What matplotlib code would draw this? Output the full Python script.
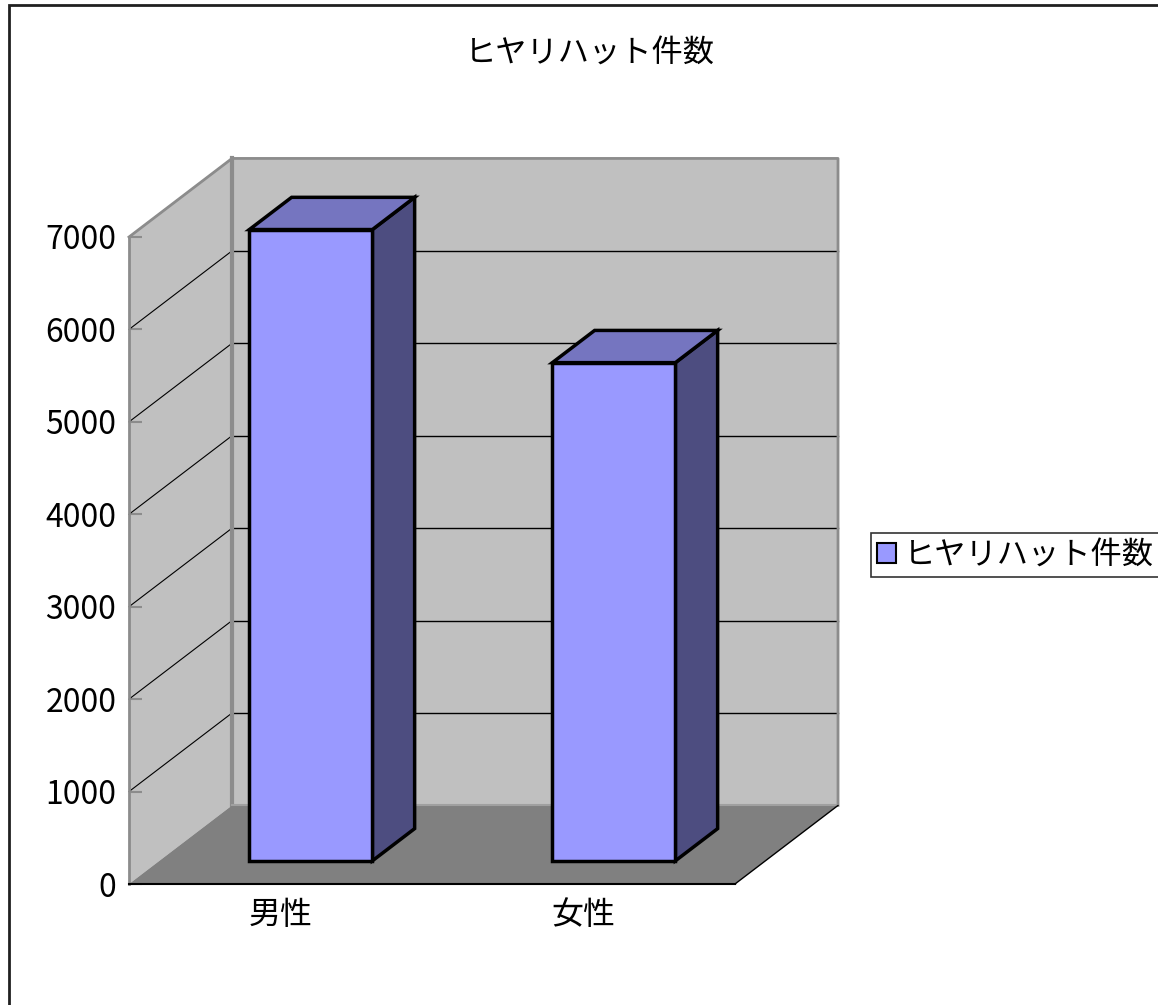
import matplotlib
matplotlib.use("Agg")
from matplotlib import pyplot as plt
from matplotlib.patches import Polygon, Patch, Rectangle

plt.rcParams['font.family'] = ['Noto Sans CJK JP', 'DejaVu Sans']

# data
categories = ['男性', '女性']
values = [6830, 5390]
series_name = 'ヒヤリハット件数'
title = 'ヒヤリハット件数'
y_ticks = [0, 1000, 2000, 3000, 4000, 5000, 6000, 7000]

# colours
wall_color = '#c0c0c0'
floor_color = '#808080'
edge_gray = '#8c8c8c'
front_color = '#9999ff'
top_color = '#7575c0'
side_color = '#4d4d80'

W, H = 1158, 1005
fig = plt.figure(figsize=(W / 100, H / 100), dpi=100)

# axes = front plane of the 3D box
ax = fig.add_axes([129 / W, (H - 884) / H, 606 / W, 647 / H])
ymax = 7000
ax.set_xlim(-0.5, len(categories) - 0.5)
ax.set_ylim(0, ymax)

# depth vector of the oblique projection (data units)
DX, DY = 0.34, 850
x0, x1 = -0.5, len(categories) - 0.5

# walls and floor
ax.add_patch(Polygon([(x0, 0), (x0, ymax), (x0 + DX, ymax + DY), (x0 + DX, DY)],
                     closed=True, facecolor=wall_color, edgecolor='none', clip_on=False, zorder=1))
ax.add_patch(Polygon([(x0 + DX, DY), (x0 + DX, ymax + DY), (x1 + DX, ymax + DY), (x1 + DX, DY)],
                     closed=True, facecolor=wall_color, edgecolor='none', clip_on=False, zorder=1))

# gridlines on back and left walls
for v in y_ticks[1:-1]:
    ax.plot([x0 + DX, x1 + DX], [v + DY, v + DY], color='black', lw=1, clip_on=False, zorder=2)
for v in y_ticks[1:]:
    ax.plot([x0, x0 + DX], [v, v + DY], color='black', lw=0.8, clip_on=False, zorder=2)

# wall edges
ax.plot([x0, x0 + DX, x1 + DX, x1 + DX], [ymax, ymax + DY, ymax + DY, DY],
        color=edge_gray, lw=2, clip_on=False, zorder=3)
ax.plot([x0 + DX, x0 + DX], [DY, ymax + DY], color=edge_gray, lw=3, clip_on=False, zorder=3)

ax.add_patch(Polygon([(x0, 0), (x1, 0), (x1 + DX, DY), (x0 + DX, DY)],
                     closed=True, facecolor=floor_color, edgecolor='none', clip_on=False, zorder=4))
ax.plot([x0 + DX, x1 + DX], [DY, DY], color='#a0a0a0', lw=1.5, clip_on=False, zorder=4)
ax.plot([x1, x1 + DX], [0, DY], color='black', lw=1, clip_on=False, zorder=4)

# bars
bw = 0.406
d0, d1 = 0.295, 0.705
xs = list(range(len(categories)))
ax.bar([x + d0 * DX for x in xs], values, width=bw, bottom=d0 * DY,
       color=front_color, edgecolor='black', linewidth=2.5, clip_on=False, zorder=6)
for x, v in zip(xs, values):
    xl = x - bw / 2 + d0 * DX
    xr = x + bw / 2 + d0 * DX
    ddx = (d1 - d0) * DX
    ddy = (d1 - d0) * DY
    yb = d0 * DY
    yt = v + d0 * DY
    ax.add_patch(Polygon([(xr, yb), (xr + ddx, yb + ddy), (xr + ddx, yt + ddy), (xr, yt)],
                         closed=True, facecolor=side_color, edgecolor='black', lw=2.5,
                         joinstyle='miter', clip_on=False, zorder=5))
    ax.add_patch(Polygon([(xl, yt), (xr, yt), (xr + ddx, yt + ddy), (xl + ddx, yt + ddy)],
                         closed=True, facecolor=top_color, edgecolor='black', lw=2.5,
                         joinstyle='miter', clip_on=False, zorder=5))

# axes styling
for s in ['top', 'right']:
    ax.spines[s].set_visible(False)
ax.spines['left'].set_color(edge_gray)
ax.spines['left'].set_linewidth(2)
ax.spines['left'].set_zorder(3)
ax.spines['bottom'].set_color('black')
ax.spines['bottom'].set_linewidth(1.5)
ax.spines['bottom'].set_zorder(7)
ax.patch.set_visible(False)

ax.set_yticks(y_ticks)
ax.set_yticklabels([str(t) for t in y_ticks])
ax.tick_params(axis='y', direction='in', length=9, width=1.5, color=edge_gray,
               labelsize=23, pad=9)
ax.set_xticks(xs)
ax.set_xticklabels(categories)
ax.set_xticks([0.5, 1.5], minor=True)
ax.tick_params(axis='x', which='major', length=0, labelsize=23, pad=11)
ax.tick_params(axis='x', which='minor', direction='in', length=9, width=1, color='black')

fig.text(590 / W, 1 - 53 / H, title, ha='center', va='center', fontsize=22.5)

leg = fig.legend(handles=[Patch(facecolor=front_color, edgecolor='black', linewidth=1.5)],
                 labels=[series_name], loc='center left',
                 bbox_to_anchor=(871 / W, 1 - 555 / H), fontsize=22.5,
                 fancybox=False, frameon=True, edgecolor='black',
                 handlelength=0.6, handleheight=0.6, handletextpad=0.25,
                 borderpad=0.2, borderaxespad=0)
leg.get_frame().set_linewidth(1.2)

# chart area border
fig.patches.append(Rectangle((9 / W, -0.05), 1.2, (H - 5) / H + 0.05,
                             transform=fig.transFigure, fill=False,
                             edgecolor='#202020', linewidth=2))

fig.savefig('out.png', dpi=100)
